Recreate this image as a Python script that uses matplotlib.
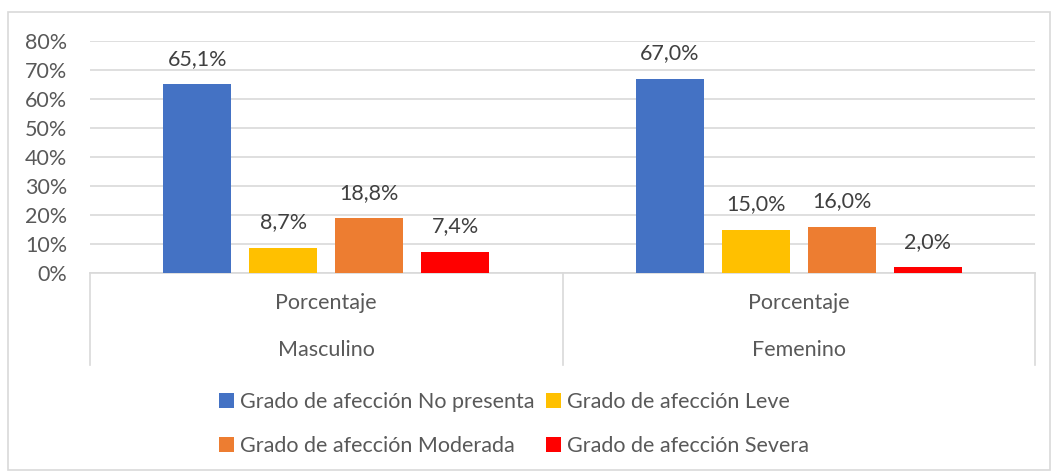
import matplotlib
matplotlib.use("Agg")
import matplotlib.pyplot as plt
from matplotlib.patches import Rectangle
import numpy as np

groups = ["Masculino", "Femenino"]
sub_label = "Porcentaje"
series = ["Grado de afección No presenta", "Grado de afección Leve",
          "Grado de afección Moderada", "Grado de afección Severa"]
values = [
    [65.1, 67.0],
    [8.7, 15.0],
    [18.8, 16.0],
    [7.4, 2.0],
]
colors = ["#4472C4", "#FFC000", "#ED7D31", "#FF0000"]
yticks = [0, 10, 20, 30, 40, 50, 60, 70, 80]

TXT = "#595959"
GRID = "#D9D9D9"
FS = 15.5
plt.rcParams["font.family"] = ["Lato", "DejaVu Sans"]

fig = plt.figure(figsize=(10.57, 4.75), dpi=100)
W, H = 1057, 475
x0, x1, y0, y1 = 90, 1035, 273, 41
ax = fig.add_axes([x0 / W, 1 - y0 / H, (x1 - x0) / W, (y0 - y1) / H])

# outer border
fig.patches.append(Rectangle((8 / W, 1 - 470 / H), (1050 - 8) / W, (470 - 12) / H,
                             transform=fig.transFigure, fill=False,
                             edgecolor=GRID, linewidth=1.2))

x = np.arange(len(groups))
bw = 0.144
step = 0.182
handles = []
for i, (s, v, c) in enumerate(zip(series, values, colors)):
    off = (i - 1.5) * step
    bars = ax.bar(x + off, v, width=bw, color=c, label=s, zorder=3)
    ax.bar_label(bars, labels=[f"{val:.1f}%".replace(".", ",") for val in v],
                 padding=11, fontsize=FS, color="#404040")
    handles.append(bars)

ax.set_xlim(-0.5, 1.5)
ax.set_ylim(0, 80)
ax.set_yticks(yticks)
ax.set_yticklabels([f"{t}%" for t in yticks], fontsize=FS, color=TXT)
ax.tick_params(axis="y", length=0, pad=16.5)
ax.tick_params(axis="x", length=0)
ax.set_xticks([])
ax.yaxis.grid(True, color=GRID, linewidth=1.2, zorder=0)
for sp in ax.spines.values():
    sp.set_visible(False)

# category axis box
bx = ax.get_xaxis_transform()
ax.plot([-0.5, 1.5], [0, 0], transform=bx, color=GRID, lw=1.2, clip_on=False, zorder=2)
box_bottom = -(365 - 273) / (273 - 41)
for xv in [-0.5, 0.5, 1.5]:
    ax.plot([xv, xv], [0, box_bottom], transform=bx, color=GRID, lw=1.2, clip_on=False)
lab1_y = -(303 - 273) / (273 - 41)
lab2_y = -(350 - 273) / (273 - 41)
for xi, g in zip(x, groups):
    ax.text(xi, lab1_y, sub_label, transform=bx, ha="center", va="center",
            fontsize=FS, color=TXT)
    ax.text(xi, lab2_y, g, transform=bx, ha="center", va="center",
            fontsize=FS, color=TXT)

order = [0, 2, 1, 3]
leg = fig.legend([handles[i] for i in order], [series[i] for i in order],
                 ncol=2, loc="center", bbox_to_anchor=(514 / W, 1 - 424 / H),
                 frameon=False, fontsize=FS, handlelength=0.7, handleheight=0.7,
                 handletextpad=0.25, columnspacing=0.55, labelspacing=1.15,
                 labelcolor=TXT)

fig.savefig("out.png", dpi=100)
